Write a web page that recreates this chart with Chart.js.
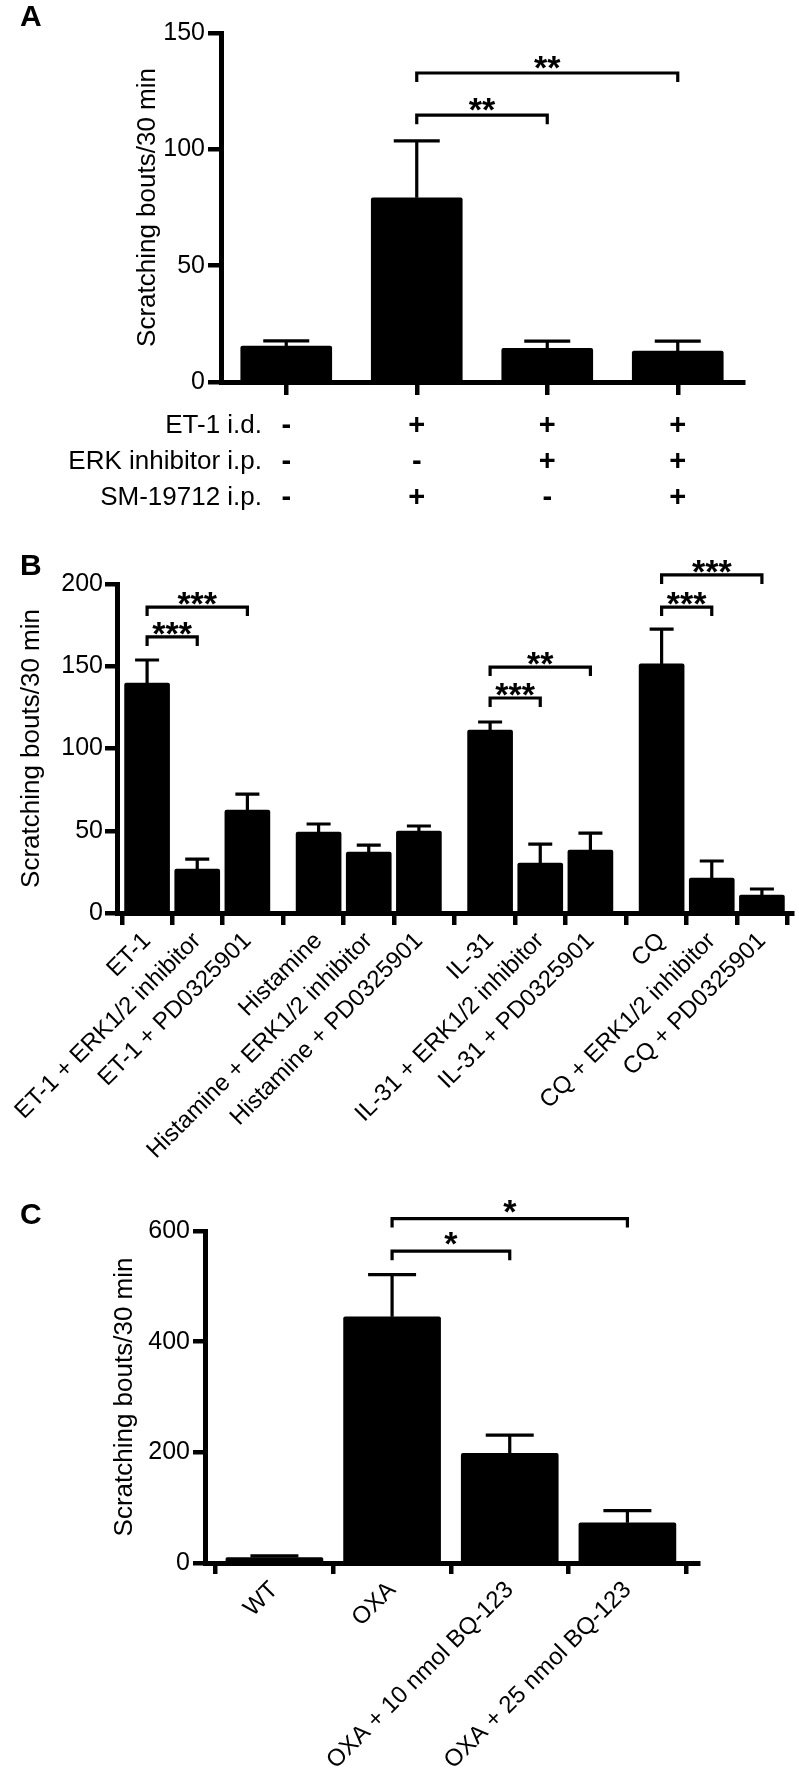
<!DOCTYPE html>
<html><head><meta charset="utf-8">
<script src="https://cdn.jsdelivr.net/npm/chart.js@4.4.1/dist/chart.umd.min.js"></script>
<style>
html,body{margin:0;padding:0;background:#fff;}
#wrap{position:relative;width:799px;height:1774px;overflow:hidden;background:#fff;}
#wrap canvas{position:absolute;left:0;top:0;}
.letter{position:absolute;font-family:'Liberation Sans',Arial,Helvetica,sans-serif;font-weight:bold;font-size:30px;line-height:30px;color:#000;}
</style></head><body>
<div id="wrap">
<canvas id="cA" width="799" height="1774"></canvas>
<canvas id="cB" width="799" height="1774"></canvas>
<canvas id="cC" width="799" height="1774"></canvas>
<div class="letter" style="left:20px;top:1px">A</div>
<div class="letter" style="left:20px;top:550px">B</div>
<div class="letter" style="left:20px;top:1199px">C</div>
</div>
<script>
// ---------- Panel A data ----------
const aTreatments = ['ET-1 i.d.', 'ERK inhibitor i.p.', 'SM-19712 i.p.'];
const aEt1 = ['-', '+', '+', '+'];
const aErk = ['-', '-', '+', '+'];
const aSm  = ['-', '+', '-', '+'];
const aMeans = [15.4, 79.2, 14.5, 13.3];
const aSem   = [2.3, 24.4, 3.1, 4.3];
const aYTicks = [0, 50, 100, 150];
const aBracketFrom  = [1, 1];
const aBracketTo    = [2, 3];
const aBracketLevel = [114.7, 132.8];
const aBracketMark  = ['**', '**'];

// ---------- Panel B data ----------
const bLabels = ['ET-1', 'ET-1 + ERK1/2 inhibitor', 'ET-1 + PD0325901',
  'Histamine', 'Histamine + ERK1/2 inhibitor', 'Histamine + PD0325901',
  'IL-31', 'IL-31 + ERK1/2 inhibitor', 'IL-31 + PD0325901',
  'CQ', 'CQ + ERK1/2 inhibitor', 'CQ + PD0325901'];
const bGroup = [0, 0, 0, 1, 1, 1, 2, 2, 2, 3, 3, 3];
const bMeans = [139.8, 26.7, 62.6, 49.2, 37.1, 49.8, 111.2, 30.4, 38.3, 151.4, 21.3, 10.9];
const bSem   = [14.0, 6.1, 9.7, 4.9, 4.2, 3.1, 4.9, 11.5, 10.3, 21.2, 10.3, 3.7];
const bYTicks = [0, 50, 100, 150, 200];
const bBracketFrom  = [0, 0, 6, 6, 9, 9];
const bBracketTo    = [1, 2, 7, 8, 10, 11];
const bBracketLevel = [167.8, 186, 130.7, 149.5, 186, 205.5];
const bBracketMark  = ['***', '***', '***', '**', '***', '***'];

// ---------- Panel C data ----------
const cLabels = ['WT', 'OXA', 'OXA + 10 nmol BQ-123', 'OXA + 25 nmol BQ-123'];
const cMeans = [10, 445, 198, 72.6];
const cSem   = [3, 76, 33, 22];
const cYTicks = [0, 200, 400, 600];
const cBracketFrom  = [1, 1];
const cBracketTo    = [2, 3];
const cBracketLevel = [563.5, 622.4];
const cBracketMark  = ['*', '*'];

// ---------- shared styling ----------
const FONT = "'Liberation Sans', Arial, Helvetica, sans-serif";
Chart.defaults.font.family = FONT;
Chart.defaults.color = '#000';

function yAxis(ticks, s) {
  return {
    type: 'linear', min: ticks[0], max: ticks[ticks.length - 1], bounds: 'data',
    afterBuildTicks: sc => { sc.ticks = ticks.map(v => ({ value: v })); },
    afterFit: sc => { sc.width = s.w; sc.paddingTop = 0; sc.paddingBottom = 0; },
    ticks: { font: { size: 25 }, padding: s.pad, color: '#000' },
    grid: { drawOnChartArea: false, drawTicks: true, tickLength: s.tl, tickWidth: 4.5,
            tickColor: '#000', color: '#000', lineWidth: 4.5 },
    border: { display: true, color: '#000', width: 5 },
    title: { display: true, text: 'Scratching bouts/30 min', font: { size: 26 }, color: '#000', padding: 0 }
  };
}

function overlay(cfg) {
  return {
    id: 'overlay' + cfg.name,
    afterDatasetsDraw(chart) {
      const ctx = chart.ctx, meta = chart.getDatasetMeta(0), y = chart.scales.y;
      ctx.save();
      ctx.strokeStyle = '#000'; ctx.lineWidth = 3.2; ctx.lineCap = 'butt';
      meta.data.forEach((bar, i) => {
        const top = y.getPixelForValue(cfg.means[i] + cfg.sem[i]);
        ctx.beginPath();
        ctx.moveTo(bar.x, bar.y); ctx.lineTo(bar.x, top);
        ctx.moveTo(bar.x - cfg.cap / 2, top); ctx.lineTo(bar.x + cfg.cap / 2, top);
        ctx.stroke();
      });
      ctx.restore();
    },
    afterDraw(chart) {
      const ctx = chart.ctx, meta = chart.getDatasetMeta(0), y = chart.scales.y;
      ctx.save();
      ctx.strokeStyle = '#000'; ctx.fillStyle = '#000'; ctx.lineWidth = 3.2;
      ctx.lineCap = 'butt'; ctx.lineJoin = 'miter';
      ctx.font = 'bold 34px ' + FONT; ctx.textAlign = 'center'; ctx.textBaseline = 'alphabetic';
      cfg.from.forEach((f, k) => {
        const x1 = meta.data[f].x, x2 = meta.data[cfg.to[k]].x;
        const yy = y.getPixelForValue(cfg.level[k]);
        ctx.beginPath();
        ctx.moveTo(x1, yy + 9); ctx.lineTo(x1, yy); ctx.lineTo(x2, yy); ctx.lineTo(x2, yy + 9);
        ctx.stroke();
        ctx.fillText(cfg.mark[k], (x1 + x2) / 2, yy + cfg.starOff);
      });
      if (cfg.rows) {
        const ca = chart.chartArea;
        ctx.font = '26px ' + FONT; ctx.textAlign = 'right'; ctx.textBaseline = 'middle';
        cfg.rows.forEach((r, i) => {
          ctx.fillText(r, ca.left + 41, ca.bottom + 13 + 13 + 18 + i * 36);
        });
      }
      ctx.restore();
    }
  };
}

const common = {
  responsive: false, maintainAspectRatio: false, animation: false, devicePixelRatio: 1,
  events: [],
  plugins: { legend: { display: false }, tooltip: { enabled: false } }
};

// ---------- Panel A ----------
const aColumns = aEt1.map((s, i) => [s, aErk[i], aSm[i]]);
new Chart(document.getElementById('cA'), {
  type: 'bar',
  data: { labels: aColumns, datasets: [{ data: aMeans, backgroundColor: '#000', borderRadius: 2, barThickness: 91 }] },
  options: Object.assign({}, common, {
    layout: { padding: { left: 132, right: 56, top: 33, bottom: 1242 } },
    scales: {
      x: {
        offset: true,
        afterFit: sc => { sc.height = 150; sc.paddingLeft = 0; sc.paddingRight = 0; },
        ticks: { font: { size: 29, weight: 'bold', lineHeight: '36px' }, padding: 13, color: '#000', autoSkip: false, maxRotation: 0, minRotation: 0 },
        grid: { offset: false, drawOnChartArea: false, drawTicks: true, tickLength: 13, tickWidth: 4.5, tickColor: '#000', color: '#000', lineWidth: 4.5 },
        border: { display: true, color: '#000', width: 5 }
      },
      y: yAxis(aYTicks, { w: 89, pad: 3, tl: 13 })
    }
  }),
  plugins: [overlay({ name: 'A', means: aMeans, sem: aSem, cap: 46, from: aBracketFrom, to: aBracketTo,
    level: aBracketLevel, mark: aBracketMark, starOff: 6, rows: aTreatments })]
});

// ---------- Panel B ----------
const GROUP_GAP = 0.42;
const bPos = bLabels.map((_, i) => i + bGroup[i] * GROUP_GAP);
new Chart(document.getElementById('cB'), {
  type: 'bar',
  data: { datasets: [{ data: bMeans.map((v, i) => ({ x: bPos[i], y: v })), backgroundColor: '#000', borderRadius: 2, barThickness: 45 }] },
  options: Object.assign({}, common, {
    layout: { padding: { left: 16, right: 7, top: 584, bottom: 601 } },
    scales: {
      x: {
        type: 'linear', bounds: 'data', offset: false,
        min: bPos[0] - 0.6, max: bPos[bPos.length - 1] + 0.6,
        afterBuildTicks: sc => { sc.ticks = bPos.map(v => ({ value: v })); },
        afterFit: sc => { sc.height = 260; sc.paddingLeft = 0; sc.paddingRight = 0; },
        ticks: { font: { size: 24 }, padding: 2, color: '#000', autoSkip: false, maxRotation: 45, minRotation: 45,
                 callback: (v, i) => bLabels[i] },
        grid: { drawOnChartArea: false, drawTicks: true, tickLength: 12, tickWidth: 4.5, tickColor: '#000', color: '#000', lineWidth: 4.5 },
        border: { display: true, color: '#000', width: 5 }
      },
      y: yAxis(bYTicks, { w: 101, pad: 2, tl: 12 })
    }
  }),
  plugins: [overlay({ name: 'B', means: bMeans, sem: bSem, cap: 24, from: bBracketFrom, to: bBracketTo,
    level: bBracketLevel, mark: bBracketMark, starOff: 8 })]
});

// ---------- Panel C ----------
const cPos = cLabels.map((_, i) => i);
new Chart(document.getElementById('cC'), {
  type: 'bar',
  data: { datasets: [{ data: cMeans.map((v, i) => ({ x: cPos[i], y: v })), backgroundColor: '#000', borderRadius: 2, barThickness: 97 }] },
  options: Object.assign({}, common, {
    layout: { padding: { left: 109, right: 101, top: 1231, bottom: 0 } },
    scales: {
      x: {
        type: 'linear', bounds: 'data', offset: false,
        min: cPos[0] - 0.59, max: cPos[cPos.length - 1] + 0.6,
        afterBuildTicks: sc => { sc.ticks = cPos.map(v => ({ value: v })); },
        afterFit: sc => { sc.height = 211; sc.paddingLeft = 0; sc.paddingRight = 0; },
        ticks: { font: { size: 24 }, padding: 2, color: '#000', autoSkip: false, maxRotation: 45, minRotation: 45,
                 callback: (v, i) => cLabels[i] },
        grid: { drawOnChartArea: false, drawTicks: true, tickLength: 11, tickWidth: 4.5, tickColor: '#000', color: '#000', lineWidth: 4.5 },
        border: { display: true, color: '#000', width: 5 }
      },
      y: yAxis(cYTicks, { w: 96, pad: 3, tl: 12 })
    }
  }),
  plugins: [overlay({ name: 'C', means: cMeans, sem: cSem, cap: 48, from: cBracketFrom, to: cBracketTo,
    level: cBracketLevel, mark: cBracketMark, starOff: 4 })]
});
</script>
</body></html>
